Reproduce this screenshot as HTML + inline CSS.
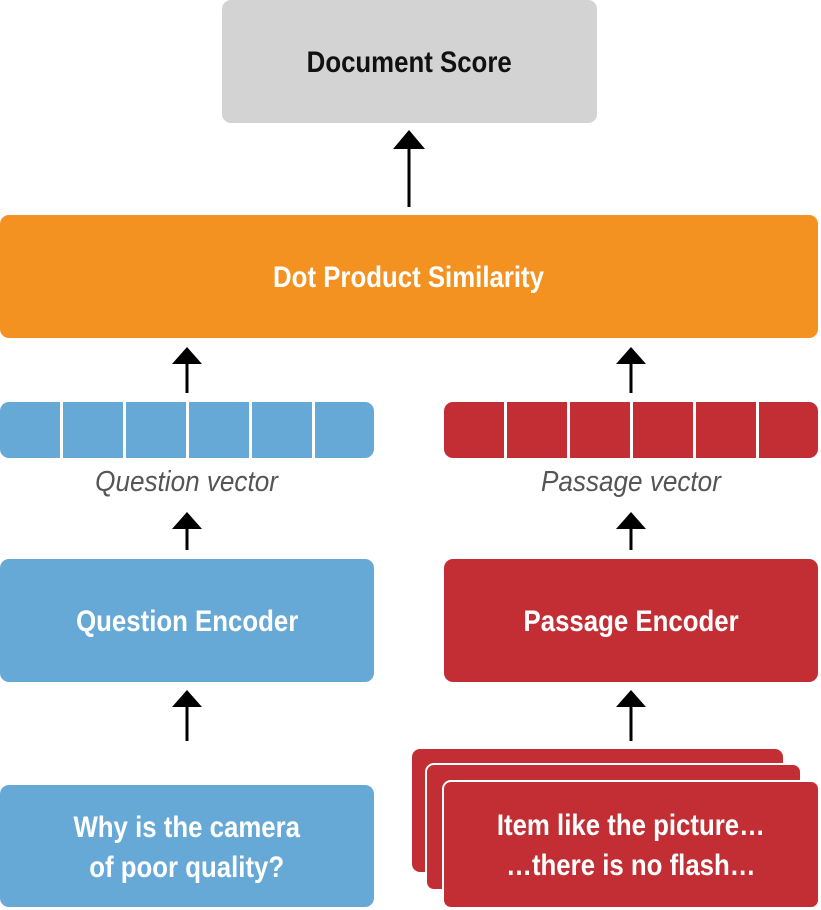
<!DOCTYPE html>
<html><head><meta charset="utf-8"><style>
body{margin:0;width:821px;height:910px;background:#fff;position:relative;overflow:hidden;font-family:"Liberation Sans",sans-serif}
.b{position:absolute;border-radius:9px;display:flex;align-items:center;justify-content:center;text-align:center;color:#fff;font-size:30px;line-height:40px;font-weight:bold}
.b span{display:inline-block;transform:scaleX(.86);white-space:nowrap;padding-top:3px}
.blue{background:#67a9d6}.red{background:#c22e33}
.v{position:absolute;top:402px;height:56px;width:374px;border-radius:9px;overflow:hidden}
.v i{position:absolute;top:0;bottom:0;width:3px;background:#fff}
.lab{position:absolute;top:466px;width:374px;text-align:center;font-style:italic;font-size:29px;color:#555}
.lab span{display:inline-block;transform:scaleX(.9)}
svg{position:absolute;left:0;top:0}
</style></head><body>
<div class="b" style="left:222px;top:0;width:375px;height:123px;background:#d3d3d3;color:#111"><span>Document Score</span></div>
<div class="b" style="left:0;top:215px;width:818px;height:123px;background:#f39220"><span>Dot Product Similarity</span></div>
<div class="v blue" style="left:0"><i style="left:60px"></i><i style="left:123px"></i><i style="left:186px"></i><i style="left:249px"></i><i style="left:312px"></i></div>
<div class="v red" style="left:444px"><i style="left:60px"></i><i style="left:123px"></i><i style="left:186px"></i><i style="left:249px"></i><i style="left:312px"></i></div>
<div class="lab" style="left:0"><span>Question vector</span></div>
<div class="lab" style="left:444px"><span>Passage vector</span></div>
<div class="b blue" style="left:0;top:559px;width:374px;height:123px"><span>Question Encoder</span></div>
<div class="b red" style="left:444px;top:559px;width:374px;height:123px"><span>Passage Encoder</span></div>
<div class="b blue" style="left:0;top:785px;width:374px;height:122px"><span>Why is the camera<br>of poor quality?</span></div>
<div class="b red" style="left:412px;top:749px;width:371px;height:123px;border-radius:8px"></div>
<div class="b red" style="left:427px;top:765px;width:373px;height:124px;border:2px solid #fff;box-sizing:content-box;margin:-2px"></div>
<div class="b red" style="left:444px;top:782px;width:374px;height:125px;border:2px solid #fff;box-sizing:content-box;margin:-2px"><span>Item like the picture…<br>…there is no flash…</span></div>
<svg width="821" height="910">
<g stroke="#000" stroke-width="3">
<line x1="409" y1="207" x2="409" y2="148"/>
<line x1="187" y1="393" x2="187" y2="362"/>
<line x1="631" y1="393" x2="631" y2="362"/>
<line x1="187" y1="550" x2="187" y2="527"/>
<line x1="631" y1="550" x2="631" y2="527"/>
<line x1="187" y1="741" x2="187" y2="705"/>
<line x1="631" y1="741" x2="631" y2="705"/>
</g>
<g fill="#000">
<polygon points="393,149 425,149 409,130"/>
<polygon points="172,364 202,364 187,347"/>
<polygon points="616,364 646,364 631,347"/>
<polygon points="172,529 202,529 187,512"/>
<polygon points="616,529 646,529 631,512"/>
<polygon points="172,707 202,707 187,690"/>
<polygon points="616,707 646,707 631,690"/>
</g>
</svg>
</body></html>
